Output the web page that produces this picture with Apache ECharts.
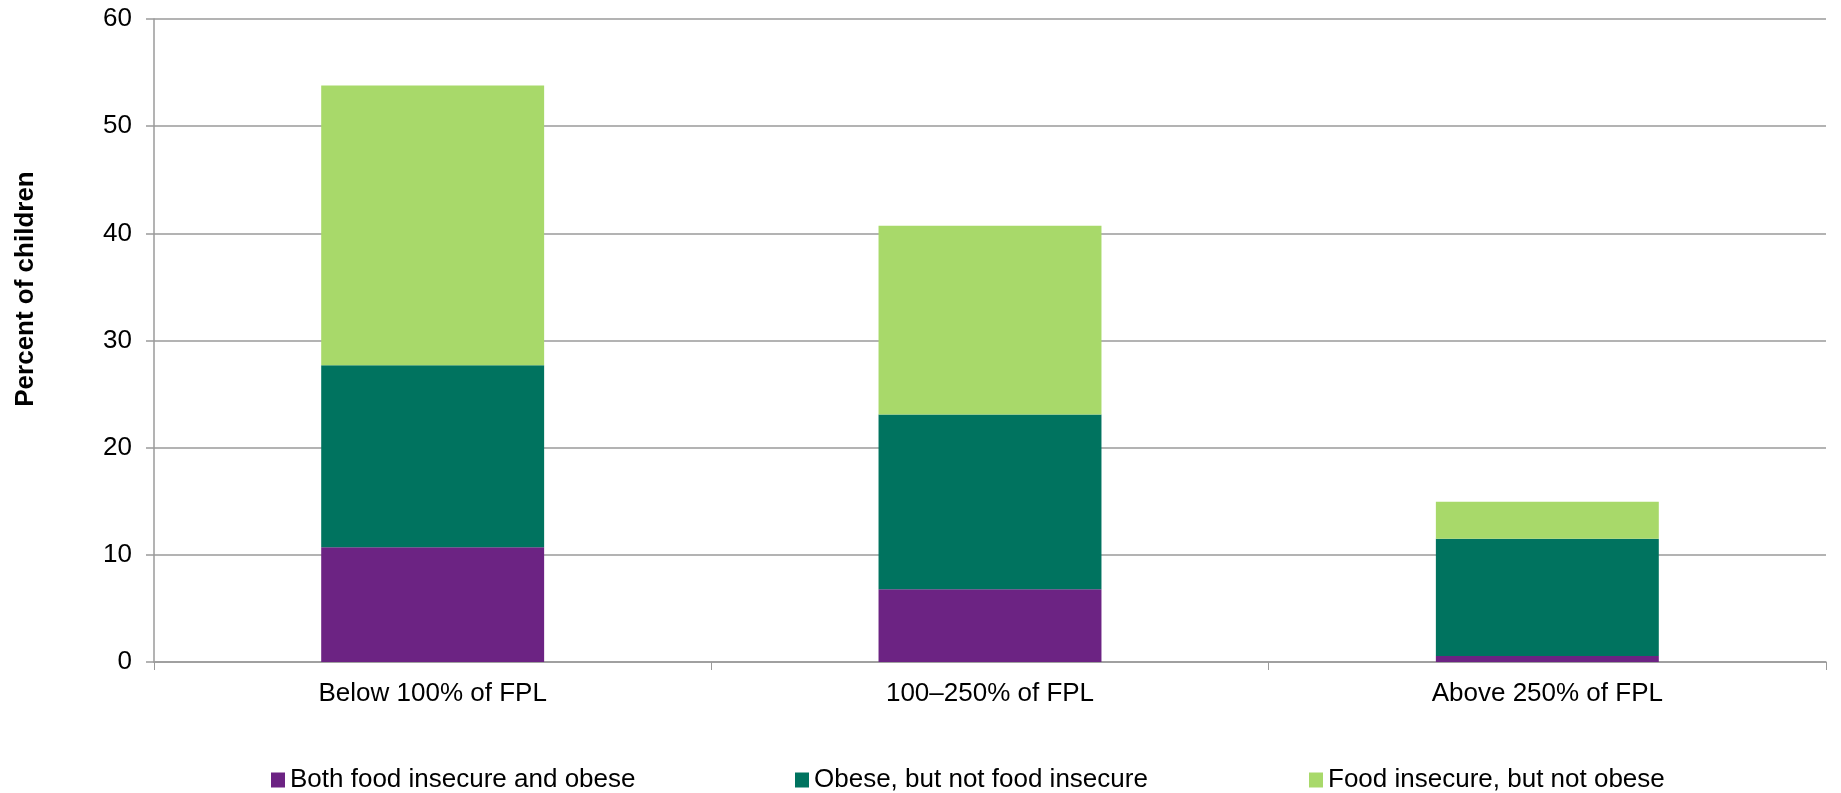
<!DOCTYPE html>
<html>
<head>
<meta charset="utf-8">
<title>Food insecurity and obesity among children by income</title>
<script src="https://cdn.jsdelivr.net/npm/echarts@6/dist/echarts.min.js"></script>
<style>
  html, body { margin: 0; padding: 0; background: #ffffff; }
  #chart { width: 1841px; height: 793px; }
</style>
</head>
<body>
<div id="chart"></div>
<script>
// Income groups (share of federal poverty level)
const categories = ['Below 100% of FPL', '100\u2013250% of FPL', 'Above 250% of FPL'];

// Percent of children in each group, stacked bottom to top
const bothFoodInsecureObese = [10.7, 6.8, 0.55];
const obeseNotFoodInsecure = [17.0, 16.3, 10.95];
const foodInsecureNotObese = [26.1, 17.6, 3.45];

const seriesNames = [
  'Both food insecure and obese',
  'Obese, but not food insecure',
  'Food insecure, but not obese'
];

// Y axis ticks
const yTicks = { min: 0, max: 60, step: 10 };

const colors = ['#6C2383', '#00735F', '#A8D96A'];
const FONT = '"Liberation Sans", Arial, Helvetica, sans-serif';
const gray = '#9a9a9a';

const chart = echarts.init(document.getElementById('chart'), null, { renderer: 'canvas' });

const values = [bothFoodInsecureObese, obeseNotFoodInsecure, foodInsecureNotObese];
const legendLefts = [266, 790, 1304];

const option = {
  backgroundColor: '#ffffff',
  animation: false,
  textStyle: { fontFamily: FONT },
  grid: { left: 154, right: 15, top: 19, bottom: 131, containLabel: false },
  legend: seriesNames.map((name, i) => ({
    data: [name],
    left: legendLefts[i],
    top: 762,
    orient: 'horizontal',
    icon: 'rect',
    itemWidth: 14,
    itemHeight: 15,
    itemGap: 6,
    textStyle: { fontFamily: FONT, fontSize: 26, color: '#000000', padding: [0, 0, 0, 0] },
    selectedMode: false
  })),
  xAxis: {
    type: 'category',
    data: categories,
    boundaryGap: true,
    axisLine: { show: true, lineStyle: { color: gray, width: 1.5 } },
    axisTick: { show: true, length: 8, lineStyle: { color: gray, width: 1 } },
    axisLabel: { fontFamily: FONT, fontSize: 26, color: '#000000', margin: 19 },
    splitLine: { show: false }
  },
  yAxis: {
    type: 'value',
    min: yTicks.min,
    max: yTicks.max,
    interval: yTicks.step,
    axisLine: { show: true, lineStyle: { color: gray, width: 1.5 } },
    axisTick: { show: true, length: 8, lineStyle: { color: gray, width: 1.5 } },
    axisLabel: { fontFamily: FONT, fontSize: 26, color: '#000000', margin: 22 },
    splitLine: { show: true, lineStyle: { color: gray, width: 1.5 } }
  },
  graphic: [{
    type: 'text',
    x: 26,
    y: 289,
    rotation: Math.PI / 2,
    style: {
      text: 'Percent of children',
      font: 'bold 26px ' + FONT,
      fill: '#000000',
      align: 'center',
      verticalAlign: 'middle'
    }
  }],
  series: seriesNames.map((name, i) => ({
    name: name,
    type: 'bar',
    stack: 'total',
    data: values[i],
    barWidth: '40%',
    itemStyle: { color: colors[i] },
    emphasis: { disabled: true }
  }))
};

chart.setOption(option);
</script>
</body>
</html>
